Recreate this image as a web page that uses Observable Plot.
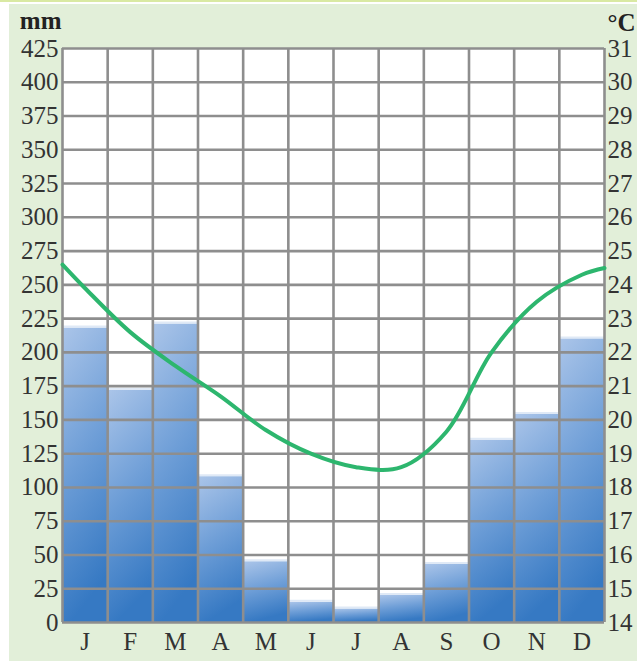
<!DOCTYPE html>
<html><head><meta charset="utf-8">
<script src="https://cdn.jsdelivr.net/npm/d3@7"></script>
<script src="https://cdn.jsdelivr.net/npm/@observablehq/plot@0.6"></script>
<style>
body{margin:0;background:#fff;}
#wrap{position:relative;width:637px;height:663px;overflow:hidden}
#panel{position:absolute;left:9px;top:4px;width:628px;height:657px;background:#e2efd9}
#topline{position:absolute;left:0;top:0;width:637px;height:2px;background:#d9e9a3}
#chart{position:absolute;left:0;top:0}
</style></head><body>
<div id="wrap"><div id="topline"></div><div id="panel"></div><div id="chart"></div></div>
<script>
const months = ["J","F","M","A","M","J","J","A","S","O","N","D"];
const precipitation = [218, 172, 221, 108, 45, 15, 10, 20, 43, 135, 154, 210];
const temperature = [23.9, 22.6, 21.6, 20.7, 19.7, 19.0, 18.6, 18.6, 19.65, 22.0, 23.5, 24.3];
const tempAtStart = 24.6;
const tempAtEnd = 24.5;
const mmTicks = [0,25,50,75,100,125,150,175,200,225,250,275,300,325,350,375,400,425];
const tempTicks = [14,15,16,17,18,19,20,21,22,23,24,25,26,27,28,29,30,31];

const bars = months.map((m, i) => ({i, m, mm: precipitation[i]}));
const linePts = [{x: 0, t: tempAtStart}]
  .concat(temperature.map((t, i) => ({x: i + 0.5, t})))
  .concat([{x: 12, t: tempAtEnd}]);
// dual axis: 14 °C ↔ 0 mm, 31 °C ↔ 425 mm
const tToMm = t => (t - tempTicks[0]) * 25;

const gridColor = "#8e8e8e";
const font = "'Liberation Serif', 'DejaVu Serif', serif";

const chart = Plot.plot({
  width: 637, height: 663,
  marginLeft: 62, marginRight: 33, marginTop: 48, marginBottom: 41,
  style: {background: "transparent", fontFamily: font, color: "#333", overflow: "visible"},
  x: {domain: [0, 12], axis: null},
  y: {domain: [0, 425], axis: null},
  marks: [
    Plot.frame({fill: "white", stroke: null}),
    Plot.rect(bars, {x1: "i", x2: d => d.i + 1, y1: 0, y2: "mm", fill: "url(#barGrad)"}),
    Plot.ruleY(bars, {x1: "i", x2: d => d.i + 1, y: "mm", dy: -1.5, stroke: "#dfe9f6", strokeWidth: 2}),
    Plot.ruleX(months.map((m, i) => i).concat([12]), {stroke: gridColor, strokeWidth: 2.6}),
    Plot.ruleY(mmTicks, {stroke: gridColor, strokeWidth: 2.6}),
    Plot.line(linePts, {x: "x", y: d => tToMm(d.t), stroke: "#2db66e", strokeWidth: 4, curve: "catmull-rom"}),
    Plot.axisY(mmTicks, {anchor: "left", tickSize: 0, tickPadding: 4, fontSize: 25, label: null, fill: "#333"}),
    Plot.axisY(mmTicks, {anchor: "right", tickSize: 0, tickPadding: 3, fontSize: 25, label: null, fill: "#333",
      tickFormat: d => String(tempTicks[mmTicks.indexOf(d)])}),
    Plot.axisX(months.map((m, i) => i + 0.5), {tickSize: 0, tickPadding: 10, fontSize: 25, label: null, fill: "#333",
      tickFormat: d => months[Math.floor(d)]}),
    Plot.text(["mm"], {frameAnchor: "top-left", textAnchor: "end", lineAnchor: "bottom", dx: -1, dy: -20,
      fontWeight: "bold", fontSize: 25, fill: "#222"}),
    Plot.text(["°C"], {frameAnchor: "top-right", textAnchor: "start", lineAnchor: "bottom", dx: 3, dy: -18,
      fontWeight: "bold", fontSize: 25, fill: "#222"})
  ]
});

const svg = d3.select(chart);
const defs = svg.insert("defs", ":first-child");
const g = defs.append("linearGradient").attr("id", "barGrad")
  .attr("x1", 0).attr("y1", 0).attr("x2", 0.2).attr("y2", 1);
g.append("stop").attr("offset", "0%").attr("stop-color", "#abc5e9");
g.append("stop").attr("offset", "50%").attr("stop-color", "#6e9ed7");
g.append("stop").attr("offset", "100%").attr("stop-color", "#3679c3");

document.getElementById("chart").appendChild(chart);
</script>
</body></html>
